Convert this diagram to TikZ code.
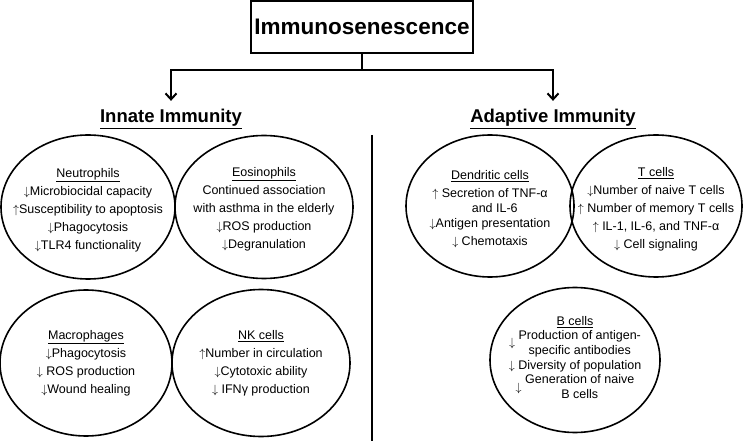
\documentclass[tikz,border=0pt]{standalone}
\usepackage{fontspec}
\setmainfont{Liberation Sans}
\usepackage{tikz}
\usetikzlibrary{positioning, calc, shapes.geometric, arrows.meta}

\tikzset{
    cell/.style = {draw, ellipse, line width = 1.6pt, inner sep = 0pt},
    celltext/.style = {align = center, inner sep = 0pt,
        font = \fontsize{12.5}{18}\selectfont},
    group/.style = {font = \fontsize{18.5}{22}\selectfont\bfseries},
    branch/.style = {line width = 2pt, shorten > = 5pt,
        -{Straight Barb[length = 6pt, width = 11pt, line width = 2pt]}}
}
\newcommand{\twolines}[2][c]{\begin{tabular}[#1]{@{}c@{}}#2\end{tabular}}
\newcommand{\incr}{$\uparrow$}
\newcommand{\decr}{$\downarrow$}
\renewcommand{\arraystretch}{0.85}

\begin{document}
\begin{tikzpicture}[x = 1pt, y = -1pt]
        \useasboundingbox (0,0) rectangle (746,443);
        \node (title) [draw, rectangle, line width = 1.5pt, minimum width = 216pt,
        minimum height = 52pt, font = \fontsize{22.5}{26}\selectfont\bfseries]
        at (362,27) {Immunosenescence};
        \node (innate) [group] at (171,119) {\underline{Innate Immunity}};
        \node (adaptive) [group] at (553,119) {\underline{Adaptive Immunity}};
        \coordinate (split) at (362,70);
        \draw [line width = 2pt] (title.south) -- (split);
        \draw [branch] (split) -| (innate.north);
        \draw [branch] (split) -| (adaptive.north);
        \coordinate (divtop) at (372,135);
        \coordinate (divbot) at (372,441);
        \draw [line width = 2.4pt] (divtop) -- (divbot);

        \node (neutro) [cell, minimum width = 174pt, minimum height = 144pt]
        at (88,207) {};
        \node (neutrotext) [celltext] at ($(neutro)+(0,3)$) {\underline{Neutrophils}\\
        \decr Microbiocidal capacity\\ \incr Susceptibility to apoptosis\\
        \decr Phagocytosis\\ \decr TLR4 functionality};
        \node (eosino) [cell, minimum width = 178pt, minimum height = 143pt]
        at (264,207) {};
        \node (eosinotext) [celltext] at ($(eosino)+(0,2)$) {\underline{Eosinophils}\\
        Continued association\\ with asthma in the elderly\\
        \decr ROS production\\ \decr Degranulation};
        \node (macro) [cell, minimum width = 172pt, minimum height = 146pt]
        at (86,363) {};
        \node (macrotext) [celltext] at (macro) {\underline{Macrophages}\\
        \decr Phagocytosis\\ \decr\ ROS production\\ \decr Wound healing};
        \node (nk) [cell, minimum width = 178pt, minimum height = 147pt]
        at (261,363) {};
        \node (nktext) [celltext] at (nk) {\underline{NK cells}\\
        \incr Number in circulation\\ \decr Cytotoxic ability\\ \decr\ IFNγ production};

        \node (dendri) [cell, minimum width = 168pt, minimum height = 142pt]
        at (490,206) {};
        \node (dendritext) [celltext] at ($(dendri)+(0,3)$) {\underline{Dendritic cells}\\
        \incr\ \twolines[t]{Secretion of TNF-α\\ and IL-6}\\
        \decr Antigen presentation\\ \decr\ Chemotaxis};
        \node (tcell) [cell, minimum width = 172pt, minimum height = 142pt]
        at (656,206) {};
        \node (tcelltext) [celltext] at ($(tcell)+(0,3)$) {\underline{T cells}\\
        \decr Number of naive T cells\\ \incr\ Number of memory T cells\\
        \incr\ IL-1, IL-6, and TNF-α\\ \decr\ Cell signaling};
        \node (bcell) [cell, minimum width = 170pt, minimum height = 145pt]
        at (575,360) {};
        \node (bcelltext) [celltext] at (bcell) {\underline{B cells}\\
        \decr\ \twolines{Production of antigen-\\ specific antibodies}\\
        \decr\ Diversity of population\\
        \decr\ \twolines{Generation of naive\\ B cells}};
    \end{tikzpicture}
\end{document}
